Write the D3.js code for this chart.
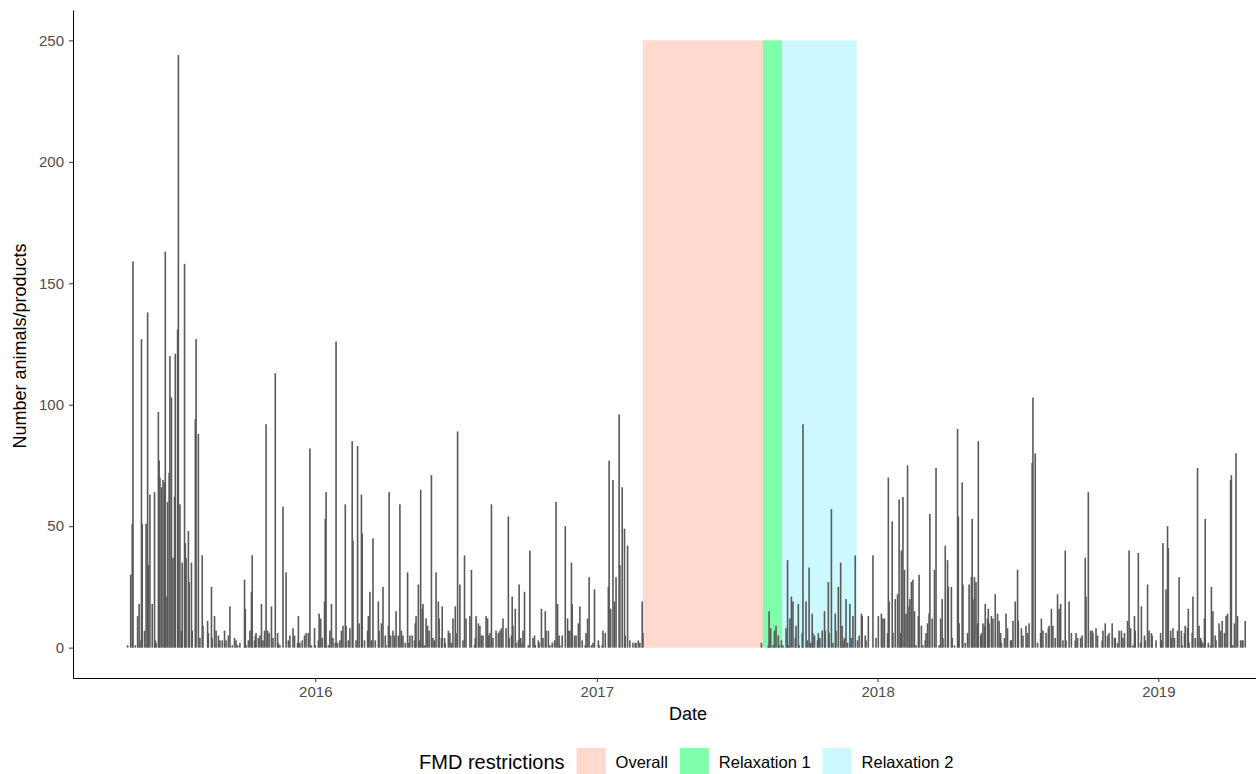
<!DOCTYPE html>
<html lang="en">
<head>
<meta charset="UTF-8">
<title>FMD restrictions – daily movements</title>
<script src="https://d3js.org/d3.v7.min.js"></script>
<style>
  body { margin: 0; background: #fff; font-family: "Liberation Sans", Arial, sans-serif; }
  svg { display: block; }
</style>
</head>
<body>
<svg width="1256" height="774"></svg>
<script>
// day offset from startDate, number of animals/products
const startDate = "2015-05-01";
const dailyCounts = [
  [1,1],[5,30],[7,51],[8,159],[11,1],[14,13],[16,18],[17,3],[19,127],[20,51],[23,7],[25,51],[27,138],[28,34],[30,63],[33,18],[36,64],[37,3],[38,2],[41,97],[42,77],[43,70],[45,66],[47,69],[49,68],[50,163],[51,21],[53,60],[55,72],[56,120],[58,103],[60,37],[62,62],[63,121],[66,131],[67,244],[69,59],[71,7],[72,35],[75,158],[76,43],[77,37],[80,48],[81,27],[84,35],[85,7],[89,94],[90,127],[93,88],[95,4],[98,38],[99,9],[105,11],[106,6],[110,25],[111,4],[114,13],
  [116,7],[119,5],[121,3],[124,3],[127,7],[129,3],[132,5],[134,17],[137,1],[140,4],[142,3],[144,1],[147,2],[153,28],[154,16],[155,1],[158,3],[160,7],[162,23],[163,38],[166,3],[167,5],[168,6],[171,4],[173,5],[175,18],[177,3],[179,7],[181,92],[183,7],[185,6],[188,17],[190,4],[193,113],[196,6],[197,2],[199,1],[203,58],[207,31],[210,3],[212,5],[216,8],[218,5],[222,2],[223,13],[225,2],[228,3],[231,5],[233,6],
  [236,6],[238,82],[240,1],[244,8],[245,1],[249,3],[250,14],[252,12],[254,4],[257,19],[258,53],[259,64],[262,1],[264,7],[266,18],[268,4],[271,2],[272,126],[274,2],[277,3],[279,7],[281,9],[284,59],[285,9],[288,3],[290,8],[293,85],[294,44],[298,3],[300,83],[302,10],[305,63],[306,47],[309,3],[313,7],[314,13],[316,23],[318,3],[320,45],[323,3],[327,19],[328,7],[331,10],[333,25],[336,5],[337,1],[340,9],[341,64],[343,5],[346,7],[348,5],[350,15],
  [353,5],[355,59],[357,7],[359,5],[362,2],[365,31],[366,2],[368,5],[371,5],[374,3],[375,10],[376,13],[379,26],[380,3],[382,65],[384,16],[385,18],[387,1],[389,12],[391,9],[393,7],[396,71],[398,4],[400,3],[402,31],[405,19],[406,12],[409,4],[410,17],[413,4],[414,2],[418,7],[420,6],[422,2],[424,12],[427,17],[428,6],[430,89],[433,26],[437,3],[439,38],[441,12],[446,13],[448,32],[452,1],[453,4],[454,13],[457,10],[459,9],[461,5],[463,5],[467,13],
  [469,12],[470,5],[472,6],[474,59],[476,4],[480,7],[483,6],[485,7],[487,8],[489,12],[493,8],[496,54],[497,4],[500,5],[501,21],[502,9],[505,16],[506,2],[509,3],[510,26],[512,4],[514,2],[515,7],[517,23],[522,1],[524,40],[528,4],[530,5],[531,1],[535,3],[536,2],[539,16],[541,4],[544,15],[545,7],[548,7],[550,1],[553,2],[556,3],[558,60],[560,18],[562,5],[563,1],[566,5],[570,50],[573,12],[574,7],[576,7],[578,35],[579,18],[582,5],[584,5],
  [587,10],[589,17],[592,3],[596,1],[597,6],[599,12],[601,29],[604,1],[606,2],[608,24],[613,3],[614,1],[618,1],[619,7],[622,6],[626,25],[627,77],[629,16],[632,69],[634,19],[636,29],[640,96],[641,34],[644,66],[647,49],[648,5],[651,42],[654,3],[658,2],[661,2],[662,2],[665,3],[667,2],[670,19],[671,6],
  [825,2],[834,1],[835,15],[837,8],[840,1],[842,7],[844,9],[847,5],[848,1],[851,3],[853,1],[857,8],[859,36],[860,1],[862,12],[864,21],[866,19],[869,4],[870,9],[873,18],[874,1],[878,6],[879,92],[883,19],[885,3],[887,33],[889,2],[891,14],[892,6],[894,5],[898,3],[899,6],[901,4],[904,7],[907,15],[908,7],[912,27],[913,6],[916,57],[918,2],[921,14],[922,7],[925,25],[928,35],[930,9],[931,3],[933,4],[935,20],[937,2],[940,18],[942,4],
  [944,13],[947,38],[950,3],[952,5],[955,14],[956,13],[960,5],[961,3],[964,13],[970,38],[974,4],[977,13],[981,14],[983,12],[985,12],[989,6],[990,70],[991,19],[995,52],[996,6],[999,20],[1002,22],[1004,61],[1006,6],[1007,40],[1009,62],[1011,32],[1013,14],[1015,75],[1017,17],[1018,20],[1020,27],[1022,28],[1024,15],[1026,1],[1029,13],[1030,30],[1033,9],[1035,1],[1038,3],[1039,6],[1041,10],[1043,14],[1044,55],[1047,12],[1050,32],[1052,74],[1056,1],[1058,12],[1060,20],
  [1061,4],[1064,42],[1067,36],[1068,25],[1072,25],[1073,4],[1076,1],[1080,90],[1081,54],[1082,10],[1086,68],[1087,26],[1090,2],[1093,6],[1095,26],[1098,29],[1099,53],[1100,20],[1102,29],[1104,27],[1106,10],[1107,85],[1110,5],[1111,6],[1113,10],[1115,9],[1116,18],[1119,12],[1120,16],[1121,10],[1124,13],[1126,12],[1129,22],[1132,14],[1134,11],[1136,6],[1137,2],[1141,4],[1143,14],[1145,8],[1149,3],[1150,3],[1152,11],[1155,19],[1158,32],[1159,11],[1163,8],[1165,5],[1169,9],[1171,6],[1173,10],[1177,76],[1178,103],
  [1181,80],[1184,2],[1188,6],[1189,12],[1191,7],[1195,6],[1198,8],[1199,9],[1202,16],[1204,9],[1207,4],[1210,22],[1212,16],[1214,18],[1217,3],[1220,40],[1221,3],[1225,19],[1228,6],[1233,3],[1234,6],[1236,4],[1240,4],[1242,5],[1246,37],[1247,21],[1250,64],[1253,7],[1255,7],[1256,6],[1260,8],[1262,5],[1268,3],[1269,7],[1272,10],[1275,5],[1277,6],[1281,10],[1284,4],[1285,4],[1288,2],[1290,7],[1293,7],
  [1295,4],[1297,6],[1301,11],[1303,40],[1305,8],[1308,1],[1310,13],[1311,7],[1315,39],[1318,2],[1319,17],[1323,5],[1324,3],[1327,26],[1329,7],[1332,6],[1333,5],[1338,3],[1344,6],[1345,3],[1347,43],[1351,24],[1353,50],[1354,41],[1357,7],[1358,4],[1360,8],[1362,4],[1366,7],[1368,29],[1371,7],[1372,1],[1375,6],[1376,9],[1379,8],[1380,16],[1381,2],[1385,6],[1386,21],[1389,4],[1392,74],[1394,9],[1396,4],[1397,3],[1399,2],[1401,12],[1402,53],[1406,2],
  [1409,1],[1410,25],[1412,15],[1415,5],[1416,3],[1420,10],[1422,7],[1424,11],[1427,6],[1429,13],[1431,14],[1435,69],[1436,71],[1438,1],[1440,10],[1442,80],[1444,13],[1448,3],[1450,3],[1451,3],[1454,11]
];

const restrictionNames = ["Overall", "Relaxation 1", "Relaxation 2"];
const restrictionStarts = ["2017-03-02", "2017-08-05", "2017-08-30"];
const restrictionEnds = ["2017-08-05", "2017-08-30", "2017-12-05"];
const restrictionColors = ["#FFD8CE", "#80FFAA", "#CCF9FF"];
const restrictionTop = 250;

const xDomain = ["2015-02-20", "2019-05-08"];
const xTickDates = ["2016-01-01", "2017-01-01", "2018-01-01", "2019-01-01"];
const yTicks = [0, 50, 100, 150, 200, 250];

const parse = d3.timeParse("%Y-%m-%d");
const start = parse(startDate);
const svg = d3.select("svg");

const x = d3.scaleTime().domain(xDomain.map(parse)).range([73, 1256]);
const y = d3.scaleLinear().domain([-12.5, 262.5]).range([678, 10]);

// shaded restriction periods
svg.append("g")
  .selectAll("rect")
  .data(restrictionNames)
  .join("rect")
    .attr("x", (d, i) => x(parse(restrictionStarts[i])))
    .attr("width", (d, i) => x(parse(restrictionEnds[i])) - x(parse(restrictionStarts[i])))
    .attr("y", y(restrictionTop))
    .attr("height", y(0) - y(restrictionTop))
    .attr("fill", (d, i) => restrictionColors[i]);

// daily bars (drawn a bit wider than one day so the thin columns read as in the original)
const barW = 1.6;
svg.append("g")
  .selectAll("rect")
  .data(dailyCounts)
  .join("rect")
    .attr("x", d => x(d3.timeDay.offset(start, d[0])) - barW / 2)
    .attr("width", barW)
    .attr("y", d => y(d[1]))
    .attr("height", d => y(0) - y(d[1]))
    .attr("fill", "#595959");

// axes
const xAxis = svg.append("g")
  .attr("transform", "translate(0,678)")
  .call(d3.axisBottom(x).tickValues(xTickDates.map(parse))
    .tickFormat(d3.timeFormat("%Y")).tickSize(4).tickSizeOuter(0).tickPadding(4));

const yAxis = svg.append("g")
  .attr("transform", "translate(73,0)")
  .call(d3.axisLeft(y).tickValues(yTicks).tickSize(4).tickSizeOuter(0).tickPadding(5));

[xAxis, yAxis].forEach(g => {
  g.select(".domain").attr("stroke", "#000").attr("stroke-width", 1);
  g.selectAll(".tick line").attr("stroke", "#333");
  g.selectAll(".tick text")
    .attr("fill", "#4D4D4D")
    .style("font-family", "'Liberation Sans', Arial, sans-serif")
    .style("font-size", "15px");
});

// axis titles
svg.append("text")
  .attr("x", 688).attr("y", 720)
  .attr("text-anchor", "middle")
  .style("font-size", "18px")
  .text("Date");

svg.append("text")
  .attr("transform", "translate(26,346) rotate(-90)")
  .attr("text-anchor", "middle")
  .style("font-size", "18px")
  .text("Number animals/products");

// legend
const legend = svg.append("g");
const legendTitle = legend.append("text")
  .attr("x", 419).attr("y", 769)
  .style("font-size", "20px")
  .text("FMD restrictions");

let lx = 419 + legendTitle.node().getComputedTextLength() + 12;
restrictionNames.forEach((name, i) => {
  legend.append("rect")
    .attr("x", lx).attr("y", 748)
    .attr("width", 29).attr("height", 28)
    .attr("fill", restrictionColors[i]);
  const t = legend.append("text")
    .attr("x", lx + 39).attr("y", 768)
    .style("font-size", "16.5px")
    .text(name);
  lx += 39 + t.node().getComputedTextLength() + 12;
});
</script>
</body>
</html>
